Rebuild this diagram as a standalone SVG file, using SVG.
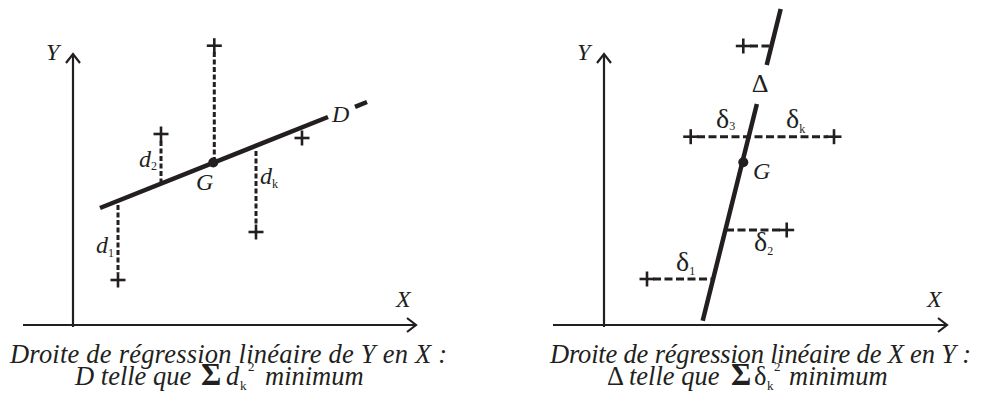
<svg xmlns="http://www.w3.org/2000/svg" xmlns:xlink="http://www.w3.org/1999/xlink" width="981" height="409" viewBox="0 0 981 409">
<style>
.axis{stroke:#231f20;stroke-width:2.2;fill:none}
.reg{stroke:#231f20;stroke-width:4.5;fill:none;stroke-linecap:butt}
.dv{stroke:#231f20;stroke-width:3;fill:none;stroke-dasharray:5 2.5}
.dh{stroke:#231f20;stroke-width:3;fill:none;stroke-dasharray:8 3.5}
.pl{stroke:#231f20;stroke-width:2.6;fill:none}
.it{font-family:"Liberation Serif","Times New Roman",serif;font-style:italic;fill:#231f20}
.up{font-family:"Liberation Serif","Times New Roman",serif;font-style:normal;fill:#231f20}
</style>
<defs>
<g id="plus"><line class="pl" x1="-7.5" y1="0" x2="7.5" y2="0"/><line class="pl" x1="0" y1="-7.5" x2="0" y2="7.5"/></g>
<path id="arrUp" class="axis" d="M-7,9 L0,0 L7,9"/>
<path id="arrRight" class="axis" d="M-9,-7 L0,0 L-9,7"/>
</defs>

<!-- Left panel -->
<g id="left-axes">
<line class="axis" x1="73" y1="327" x2="73" y2="54"/>
<use xlink:href="#arrUp" x="73" y="54"/>
<line class="axis" x1="23" y1="325" x2="416" y2="325"/>
<use xlink:href="#arrRight" x="416" y="325"/>
<text class="it" x="46" y="60" font-size="24">Y</text>
<text class="it" x="396" y="307" font-size="24">X</text>
</g>
<g id="left-connectors">
<line class="dv" x1="214.3" y1="52" x2="214.3" y2="158"/>
<line class="dv" x1="161" y1="141" x2="161" y2="182"/>
<line class="dv" x1="256" y1="151" x2="256" y2="226"/>
<line class="dv" x1="118" y1="205" x2="118" y2="273"/>
</g>
<g id="line-D">
<line class="reg" x1="100" y1="208" x2="328" y2="117"/>
<line class="reg" x1="355" y1="106.8" x2="367" y2="102"/>
<text class="it" x="332" y="122" font-size="24">D</text>
</g>
<g id="left-G">
<circle cx="213.3" cy="162.5" r="5" fill="#231f20"/>
<text class="it" x="196" y="190" font-size="24">G</text>
</g>
<g id="left-points">
<use xlink:href="#plus" x="214.3" y="45.7"/>
<use xlink:href="#plus" x="161" y="134"/>
<use xlink:href="#plus" x="302" y="138"/>
<use xlink:href="#plus" x="256" y="232"/>
<use xlink:href="#plus" x="118" y="280"/>
</g>
<g id="left-labels">
<text class="it" x="139" y="167" font-size="24">d<tspan class="up" font-size="12" dy="3">2</tspan></text>
<text class="it" x="260" y="184" font-size="24">d<tspan class="up" font-size="12" dy="4">k</tspan></text>
<text class="it" x="96" y="253" font-size="24">d<tspan class="up" font-size="12" dy="4">1</tspan></text>
</g>

<!-- Right panel -->
<g id="right-axes">
<line class="axis" x1="604" y1="327" x2="604" y2="54"/>
<use xlink:href="#arrUp" x="604" y="54"/>
<line class="axis" x1="553" y1="325" x2="947" y2="325"/>
<use xlink:href="#arrRight" x="947" y="325"/>
<text class="it" x="577" y="60" font-size="24">Y</text>
<text class="it" x="927" y="307" font-size="24">X</text>
</g>
<g id="right-connectors">
<line class="dh" x1="750" y1="46" x2="771" y2="46"/>
<line class="dh" x1="697" y1="136.7" x2="828" y2="136.7"/>
<line class="dh" x1="726" y1="230" x2="781" y2="230"/>
<line class="dh" x1="653" y1="279" x2="713" y2="279"/>
</g>
<g id="line-Delta">
<line class="reg" x1="780.7" y1="9" x2="766.7" y2="65"/>
<line class="reg" x1="756.9" y1="104" x2="702.7" y2="320.7"/>
<text class="up" x="760" y="92" font-size="26" text-anchor="middle">Δ</text>
</g>
<g id="right-G">
<circle cx="743.3" cy="162.3" r="5" fill="#231f20"/>
<text class="it" x="753" y="179" font-size="24">G</text>
</g>
<g id="right-points">
<use xlink:href="#plus" x="743.3" y="46"/>
<use xlink:href="#plus" x="690.7" y="136.7"/>
<use xlink:href="#plus" x="834" y="136.7"/>
<use xlink:href="#plus" x="786.7" y="230"/>
<use xlink:href="#plus" x="647" y="279"/>
</g>
<g id="right-labels">
<text class="up" x="716" y="128" font-size="28">δ<tspan font-size="12" dy="2">3</tspan></text>
<text class="up" x="786" y="128" font-size="28">δ<tspan font-size="12" dy="5">k</tspan></text>
<text class="up" x="754" y="251" font-size="28">δ<tspan font-size="12" dy="4">2</tspan></text>
<text class="up" x="676" y="271" font-size="28">δ<tspan font-size="12" dy="4">1</tspan></text>
</g>

<!-- Captions -->
<g id="caption-left">
<text class="it" x="10" y="363" font-size="26.5" textLength="437" lengthAdjust="spacing">Droite de régression linéaire de Y en X :</text>
<text class="it" x="75" y="385" font-size="26.5">D telle que <tspan class="up" font-weight="bold" font-size="31" x="201">Σ</tspan><tspan x="226">d</tspan><tspan class="up" font-size="13" x="240" dy="5">k</tspan><tspan class="up" font-size="13" x="248" dy="-19">2</tspan><tspan x="265" dy="14">minimum</tspan></text>
</g>
<g id="caption-right">
<text class="it" x="607" y="385" font-size="26.5"><tspan class="up">Δ</tspan><tspan x="629">telle que</tspan><tspan class="up" font-weight="bold" font-size="31" x="731">Σ</tspan><tspan class="up" x="754">δ</tspan><tspan class="up" font-size="13" x="767" dy="5">k</tspan><tspan class="up" font-size="13" x="774" dy="-19">2</tspan><tspan x="789" dy="14">minimum</tspan></text>
<text class="it" x="550" y="363" font-size="26.5" textLength="421" lengthAdjust="spacing">Droite de régression linéaire de X en Y :</text>
</g>
</svg>
